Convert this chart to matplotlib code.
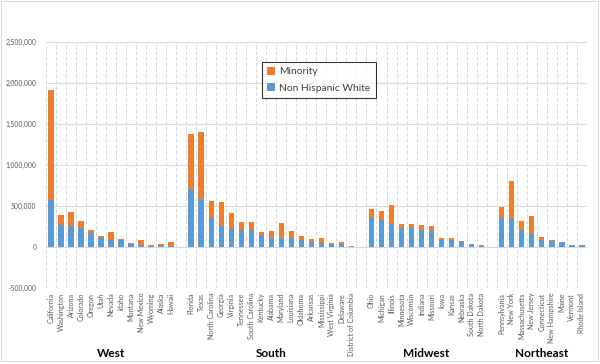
import matplotlib
matplotlib.use("Agg")
import matplotlib.pyplot as plt
from matplotlib.patches import Rectangle
from matplotlib.ticker import FuncFormatter
from matplotlib.transforms import blended_transform_factory

plt.rcParams['font.family'] = ['Lato', 'DejaVu Sans']

regions = ["West", "South", "Midwest", "Northeast"]

west_states = ["California", "Washington", "Arizona", "Colorado", "Oregon", "Utah",
               "Nevada", "Idaho", "Montana", "New Mexico", "Wyoming", "Alaska", "Hawaii"]
west_white = [577000, 272000, 260000, 236000, 167000, 114000, 89000, 91000, 43000,
              26000, 18000, 18000, 18000]
west_minority = [1342000, 122000, 171000, 85000, 44000, 24000, 98000, 11000, 10000,
                 63000, 10000, 23000, 47000]

south_states = ["Florida", "Texas", "North Carolina", "Georgia", "Virginia", "Tennessee",
                "South Carolina", "Kentucky", "Alabama", "Maryland", "Louisiana",
                "Oklahoma", "Arkansas", "Mississippi", "West Virginia", "Delaware",
                "District of Columbia"]
south_white = [707000, 585000, 358000, 260000, 236000, 211000, 211000, 146000, 114000,
               114000, 114000, 89000, 65000, 49000, 41000, 41000, 3000]
south_minority = [675000, 822000, 207000, 293000, 183000, 98000, 98000, 41000, 85000,
                  183000, 85000, 49000, 37000, 65000, 12000, 24000, 13000]

midwest_states = ["Ohio", "Michigan", "Illinois", "Minnesota", "Wisconsin", "Indiana",
                  "Missouri", "Iowa", "Kansas", "Nebraska", "South Dakota", "North Dakota"]
midwest_white = [356000, 329000, 280000, 232000, 232000, 207000, 191000, 85000, 85000,
                 61000, 37000, 12000]
midwest_minority = [109000, 110000, 232000, 48000, 48000, 61000, 65000, 25000, 25000,
                    12000, 2000, 12000]

northeast_states = ["Pennsylvania", "New York", "Massachusetts", "New Jersey",
                    "Connecticut", "New Hampshire", "Maine", "Vermont", "Rhode Island"]
northeast_white = [354000, 341000, 207000, 159000, 85000, 73000, 61000, 24000, 24000]
northeast_minority = [134000, 464000, 110000, 219000, 37000, 12000, 2000, 1000, 2000]

groups = [
    (west_states, west_white, west_minority),
    (south_states, south_white, south_minority),
    (midwest_states, midwest_white, midwest_minority),
    (northeast_states, northeast_white, northeast_minority),
]

blue = "#5B9BD5"
orange = "#ED7D31"

fig = plt.figure(figsize=(6, 3.64), dpi=100)
ax = fig.add_axes([0.0767, 0.2088, 0.9013, 0.675])

# lay the groups out with one empty slot between them
positions, labels, white, minority, centers = [], [], [], [], []
pos = 0
for states, w, m in groups:
    start = pos
    for s, a, b in zip(states, w, m):
        positions.append(pos)
        labels.append(s)
        white.append(a)
        minority.append(b)
        pos += 1
    centers.append((start + pos) / 2)
    pos += 1
n_slots = pos - 1

ax.bar(positions, white, width=0.55, color=blue, label="Non Hispanic White", zorder=3)
ax.bar(positions, minority, width=0.55, bottom=white, color=orange, label="Minority", zorder=3)

ax.set_xlim(-0.5, n_slots - 0.5)
ax.set_ylim(-500000, 2500000)
ax.set_yticks(range(-500000, 2500001, 500000))
ax.yaxis.set_major_formatter(FuncFormatter(lambda v, p: f"{int(v):,}"))
ax.tick_params(axis="y", length=0, pad=7, labelsize=4.9, labelcolor="#595959")

ax.set_xticks(positions)
ax.set_xticklabels(labels, rotation=90, fontsize=5.1, color="#595959", va="top")
ax.tick_params(axis="x", length=0, pad=3.5)

# gridlines: solid horizontal, dashed vertical at every slot boundary
ax.grid(axis="y", color="#d9d9d9", linewidth=0.8, zorder=0)
for b in range(n_slots + 1):
    ax.axvline(b - 0.5, color="#d9d9d9", linewidth=0.7, linestyle=(0, (4, 2)), zorder=0)

for sp in ax.spines.values():
    sp.set_visible(False)

trans = blended_transform_factory(ax.transData, fig.transFigure)
for name, c in zip(regions, centers):
    ax.text(c - 0.5, 0.03, name, transform=trans, ha="center", va="center",
            fontsize=8.5, fontweight="bold", color="black")

handles, lbls = ax.get_legend_handles_labels()
leg = fig.legend(handles[::-1], lbls[::-1], loc="upper left",
                 bbox_to_anchor=(0.428, 0.845), fontsize=7.4, frameon=True,
                 fancybox=False, handlelength=0.8, handleheight=0.8,
                 handletextpad=0.4, borderpad=0.5, labelspacing=0.7)
leg.get_frame().set_edgecolor("black")
leg.get_frame().set_linewidth(0.8)
for t in leg.get_texts():
    t.set_color("#404040")

fig.patches.append(Rectangle((0.002, 0.008), 0.995, 0.99, transform=fig.transFigure,
                             fill=False, edgecolor="#d9d9d9", linewidth=0.8))

fig.savefig("out.png", dpi=100)
